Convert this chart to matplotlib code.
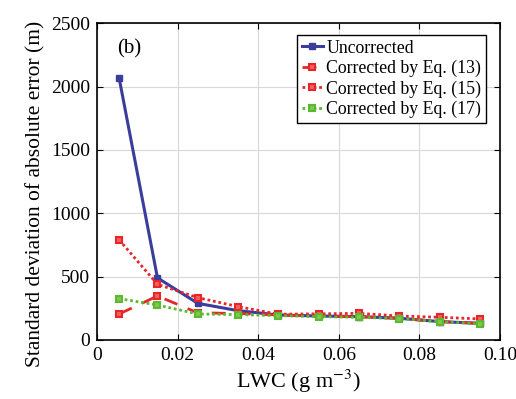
import matplotlib.pyplot as plt
import numpy as np

plt.rcParams['font.family'] = ['Liberation Serif', 'DejaVu Serif']
plt.rcParams['mathtext.fontset'] = 'stix'

lwc = [0.0055, 0.015, 0.025, 0.035, 0.045, 0.055, 0.065, 0.075, 0.085, 0.095]
uncorrected = [2065, 490, 289, 231, 197, 189, 184, 171, 145, 131]
eq13 = [205, 347, 214, 209, 197, 190, 184, 171, 145, 131]
eq15 = [790, 439, 334, 263, 203, 206, 210, 189, 179, 166]
eq17 = [326, 276, 205, 200, 192, 184, 179, 168, 145, 126]

fig = plt.figure(figsize=(5.16, 3.99), dpi=100)
ax = fig.add_axes([0.188, 0.148, 0.781, 0.794])

ax.plot(lwc, uncorrected, color='#3a3d9c', lw=2.2, ls='-', marker='s', ms=5,
        mfc='#3a3d9c', mec='#3a3d9c', label='Uncorrected', zorder=3)
ax.plot(lwc, eq13, color='#e8262a', lw=2.0, ls=(0, (5, 4)), marker='s', ms=5,
        mfc='#f06060', mec='#e8262a', mew=1.5, label='Corrected by Eq. (13)', zorder=4)
ax.plot(lwc, eq15, color='#e8262a', lw=2.0, ls=(0, (1, 1)), marker='s', ms=5,
        mfc='#f06060', mec='#e8262a', mew=1.5, label='Corrected by Eq. (15)', zorder=4)
ax.plot(lwc, eq17, color='#5cb82e', lw=2.0, ls=(0, (1, 1)), marker='s', ms=5,
        mfc='#7cc850', mec='#5cb82e', mew=1.5, label='Corrected by Eq. (17)', zorder=5)

ax.set_xlim(0, 0.10)
ax.set_ylim(0, 2500)
ax.set_xticks(np.arange(0, 0.101, 0.02))
ax.set_xticklabels(['0', '0.02', '0.04', '0.06', '0.08', '0.10'])
ax.set_yticks(np.arange(0, 2501, 500))
ax.grid(True, color='#d8d8d8', lw=0.8)
ax.set_axisbelow(True)
ax.tick_params(direction='in', top=True, right=True, labelsize=14, length=4, pad=5)
for s in ax.spines.values():
    s.set_linewidth(1.2)

ax.set_xlabel('LWC (g m$^{-3}$)', fontsize=16, labelpad=3)
ax.set_ylabel('Standard deviation of absolute error (m)', fontsize=15.5)
ax.yaxis.set_label_coords(-0.128, 0.46)
ax.text(0.05, 0.95, '(b)', transform=ax.transAxes, fontsize=15, va='top')

leg = ax.legend(loc='upper right', fontsize=12.8, handlelength=1.2, handletextpad=0.2,
                labelspacing=0.18, borderpad=0.25, borderaxespad=0, fancybox=False,
                framealpha=1, edgecolor='black', bbox_to_anchor=(0.965, 0.962))
leg.get_frame().set_linewidth(1.0)

fig.savefig('out.png', dpi=100)
